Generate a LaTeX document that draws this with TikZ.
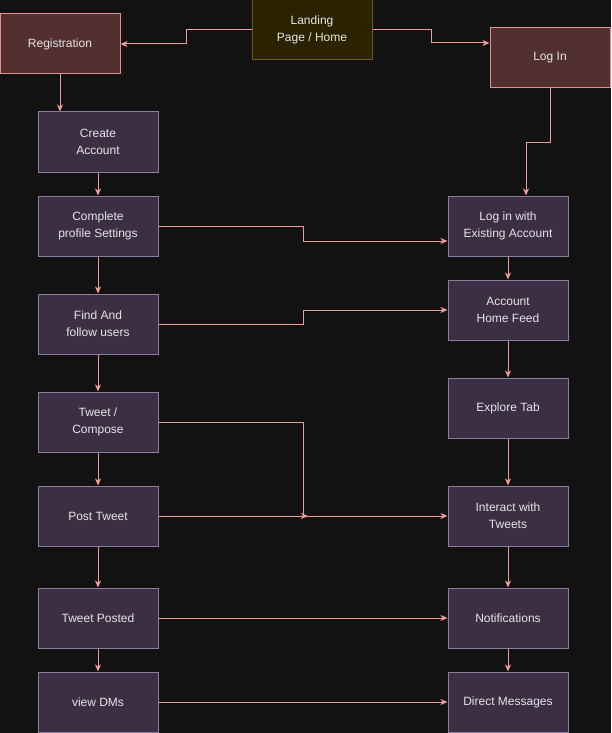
\documentclass[tikz,border=0pt]{standalone}
\usepackage{fontspec}
\setmainfont{Liberation Sans}
\usetikzlibrary{arrows.meta}
\definecolor{bg}{HTML}{121212}
\definecolor{pfill}{HTML}{3A2F43}
\definecolor{pdraw}{HTML}{8E7B9E}
\definecolor{rfill}{HTML}{51302F}
\definecolor{rdraw}{HTML}{E0908D}
\definecolor{yfill}{HTML}{2B2200}
\definecolor{ydraw}{HTML}{6B5B1C}
\definecolor{edge}{HTML}{F19C99}
\definecolor{txt}{HTML}{E6E6E6}
\begin{document}
\begin{tikzpicture}[x=1pt,y=-1pt,
  box/.style={draw, line width=1pt, minimum width=120pt, minimum height=60pt, inner sep=0pt,
    align=center, text=txt, font=\fontsize{12}{17}\selectfont},
  pbox/.style={box, fill=pfill, draw=pdraw},
  rbox/.style={box, fill=rfill, draw=rdraw},
  ybox/.style={box, fill=yfill, draw=ydraw},
  link/.style={draw=edge, line width=1pt, -{Stealth[length=7pt,width=6pt,inset=2pt]}}
]
\fill[bg] (0,0) rectangle (611,733);
\useasboundingbox (0,0) rectangle (611,733);

\node[ybox] (land) at (312,30) {Landing\\Page / Home};
\node[rbox] (reg) at (60,44) {Registration};
\node[rbox] (login) at (550,58) {Log In};

\node[pbox] (create) at (98,142) {Create\\Account};
\node[pbox] (profile) at (98,226) {Complete\\profile Settings};
\node[pbox] (find) at (98,324) {Find And\\follow users};
\node[pbox] (compose) at (98,422) {Tweet /\\Compose};
\node[pbox] (post) at (98,516) {Post Tweet};
\node[pbox] (posted) at (98,618) {Tweet Posted};
\node[pbox] (dms) at (98,702) {view DMs};

\node[pbox] (existing) at (508,226) {Log in with\\Existing Account};
\node[pbox] (feed) at (508,310) {Account\\Home Feed};
\node[pbox] (explore) at (508,408) {Explore Tab};
\node[pbox] (interact) at (508,516) {Interact with\\Tweets};
\node[pbox] (notif) at (508,618) {Notifications};
\node[pbox] (direct) at (508,702) {Direct Messages};

\coordinate (j) at (308,516);

\draw[link] (land.west) -- (186,30) -- (186,44) -- (reg.east);
\draw[link] (land.east) -- (431,30) -- (431,43) -- (login.west |- 0,43);
\draw[link] (reg.south) -- (create.north -| reg.south);
\draw[link] (login.south) -- (550,142) -- (526,142) -- (existing.north -| 526,0);

\draw[link] (create) -- (profile);
\draw[link] (profile) -- (find);
\draw[link] (find) -- (compose);
\draw[link] (compose) -- (post);
\draw[link] (post) -- (posted);
\draw[link] (posted) -- (dms);

\draw[link] (existing) -- (feed);
\draw[link] (feed) -- (explore);
\draw[link] (explore) -- (interact);
\draw[link] (interact) -- (notif);
\draw[link] (notif) -- (direct);

\draw[link] (profile.east) -- (303,226) -- (303,241) -- (existing.west |- 0,241);
\draw[link] (find.east) -- (303,324) -- (303,310) -- (feed.west);
\draw[link] (compose.east) -- (303,422) -- (303,516) -- (j);
\draw[link] (post) -- (interact);
\draw[link] (posted) -- (notif);
\draw[link] (dms) -- (direct);
\end{tikzpicture}
\end{document}
